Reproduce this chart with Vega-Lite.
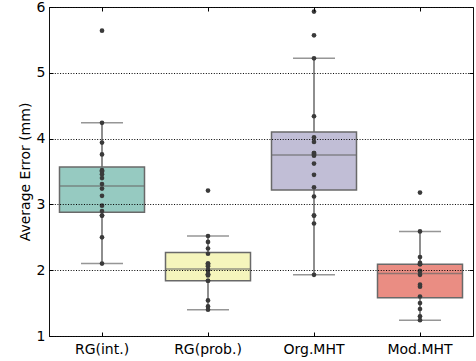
{
  "$schema": "https://vega.github.io/schema/vega-lite/v6.json",
  "width": 424,
  "height": 329,
  "autosize": {"type": "none"},
  "padding": {"left": 49, "top": 7, "right": 3, "bottom": 25},
  "config": {
    "font": "DejaVu Sans",
    "view": {"stroke": "#111", "strokeWidth": 1}
  },
  "datasets": {
    "box": [
      {"m": "RG(int.)", "q1": 2.88, "med": 3.28, "q3": 3.57, "lo": 2.10, "hi": 4.24},
      {"m": "RG(prob.)", "q1": 1.84, "med": 2.02, "q3": 2.27, "lo": 1.40, "hi": 2.52},
      {"m": "Org.MHT", "q1": 3.22, "med": 3.75, "q3": 4.10, "lo": 1.93, "hi": 5.22},
      {"m": "Mod.MHT", "q1": 1.58, "med": 1.95, "q3": 2.09, "lo": 1.24, "hi": 2.59}
    ],
    "pts": [
      {"m": "RG(int.)", "v": 5.64}, {"m": "RG(int.)", "v": 4.24}, {"m": "RG(int.)", "v": 3.94}, {"m": "RG(int.)", "v": 3.76},
      {"m": "RG(int.)", "v": 3.52}, {"m": "RG(int.)", "v": 3.50}, {"m": "RG(int.)", "v": 3.46}, {"m": "RG(int.)", "v": 3.40},
      {"m": "RG(int.)", "v": 3.31}, {"m": "RG(int.)", "v": 3.24}, {"m": "RG(int.)", "v": 3.13}, {"m": "RG(int.)", "v": 2.98},
      {"m": "RG(int.)", "v": 2.90}, {"m": "RG(int.)", "v": 2.83}, {"m": "RG(int.)", "v": 2.83}, {"m": "RG(int.)", "v": 2.50},
      {"m": "RG(int.)", "v": 2.10},
      {"m": "RG(prob.)", "v": 3.21}, {"m": "RG(prob.)", "v": 2.52}, {"m": "RG(prob.)", "v": 2.43}, {"m": "RG(prob.)", "v": 2.33},
      {"m": "RG(prob.)", "v": 2.25}, {"m": "RG(prob.)", "v": 2.10}, {"m": "RG(prob.)", "v": 2.10}, {"m": "RG(prob.)", "v": 2.08},
      {"m": "RG(prob.)", "v": 2.06}, {"m": "RG(prob.)", "v": 2.00}, {"m": "RG(prob.)", "v": 2.00}, {"m": "RG(prob.)", "v": 1.94},
      {"m": "RG(prob.)", "v": 1.94}, {"m": "RG(prob.)", "v": 1.92}, {"m": "RG(prob.)", "v": 1.84}, {"m": "RG(prob.)", "v": 1.84},
      {"m": "RG(prob.)", "v": 1.54}, {"m": "RG(prob.)", "v": 1.45}, {"m": "RG(prob.)", "v": 1.40},
      {"m": "Org.MHT", "v": 5.93}, {"m": "Org.MHT", "v": 5.57}, {"m": "Org.MHT", "v": 5.22}, {"m": "Org.MHT", "v": 4.34},
      {"m": "Org.MHT", "v": 4.02}, {"m": "Org.MHT", "v": 3.95}, {"m": "Org.MHT", "v": 3.78}, {"m": "Org.MHT", "v": 3.78},
      {"m": "Org.MHT", "v": 3.76}, {"m": "Org.MHT", "v": 3.74}, {"m": "Org.MHT", "v": 3.62}, {"m": "Org.MHT", "v": 3.45},
      {"m": "Org.MHT", "v": 3.26}, {"m": "Org.MHT", "v": 3.12}, {"m": "Org.MHT", "v": 2.83}, {"m": "Org.MHT", "v": 2.83},
      {"m": "Org.MHT", "v": 2.71}, {"m": "Org.MHT", "v": 1.93},
      {"m": "Mod.MHT", "v": 3.18}, {"m": "Mod.MHT", "v": 2.59}, {"m": "Mod.MHT", "v": 2.20}, {"m": "Mod.MHT", "v": 2.11},
      {"m": "Mod.MHT", "v": 2.09}, {"m": "Mod.MHT", "v": 2.09}, {"m": "Mod.MHT", "v": 1.99}, {"m": "Mod.MHT", "v": 1.98},
      {"m": "Mod.MHT", "v": 1.93}, {"m": "Mod.MHT", "v": 1.78}, {"m": "Mod.MHT", "v": 1.75}, {"m": "Mod.MHT", "v": 1.60},
      {"m": "Mod.MHT", "v": 1.50}, {"m": "Mod.MHT", "v": 1.41}, {"m": "Mod.MHT", "v": 1.30}, {"m": "Mod.MHT", "v": 1.24}
    ]
  },
  "resolve": {"axis": {"x": "independent", "y": "independent"}},
  "layer": [
    {
      "data": {"name": "box"},
      "mark": {"type": "rule", "color": "#696969", "strokeWidth": 1.5},
      "encoding": {
        "x": {
          "field": "m", "type": "nominal",
          "sort": ["RG(int.)", "RG(prob.)", "Org.MHT", "Mod.MHT"],
          "scale": {"paddingInner": 0, "paddingOuter": 0},
          "axis": {"orient": "bottom", "title": null, "labelAngle": 0, "labelFontSize": 14, "labelColor": "#000",
                   "tickSize": -4, "tickColor": "#000", "domain": false, "labelPadding": 10, "zindex": 1}
        },
        "y": {
          "field": "lo", "type": "quantitative",
          "scale": {"domain": [1, 6], "nice": false, "zero": false},
          "axis": {"orient": "left", "title": "Average Error (mm)", "titleFontSize": 14, "titleFontWeight": "normal",
                   "titleColor": "#000", "values": [1, 2, 3, 4, 5, 6], "labelFontSize": 14, "labelColor": "#000",
                   "tickSize": -4, "tickColor": "#000", "domain": false, "labelPadding": 8,
                   "grid": true, "gridColor": "#000", "gridOpacity": 1, "gridDash": [1, 1.65], "gridWidth": 1, "zindex": 1}
        },
        "y2": {"field": "hi"}
      }
    },
    {
      "data": {"name": "box"},
      "mark": {"type": "tick", "color": "#696969", "thickness": 1.5, "size": 42},
      "encoding": {
        "x": {
          "field": "m", "type": "nominal",
          "sort": ["RG(int.)", "RG(prob.)", "Org.MHT", "Mod.MHT"],
          "axis": {"orient": "top", "title": null, "labels": false, "tickSize": -4, "tickColor": "#000", "domain": false, "zindex": 1}
        },
        "y": {
          "field": "lo", "type": "quantitative",
          "axis": {"orient": "right", "title": null, "labels": false, "values": [1, 2, 3, 4, 5, 6], "tickSize": -4,
                   "tickColor": "#000", "domain": false, "grid": false, "zindex": 1}
        }
      }
    },
    {
      "data": {"name": "box"},
      "mark": {"type": "tick", "color": "#696969", "thickness": 1.5, "size": 42},
      "encoding": {
        "x": {"field": "m", "type": "nominal", "sort": ["RG(int.)", "RG(prob.)", "Org.MHT", "Mod.MHT"], "axis": null},
        "y": {"field": "hi", "type": "quantitative", "axis": null}
      }
    },
    {
      "data": {"name": "box"},
      "mark": {"type": "bar", "size": 85, "stroke": "#696969", "strokeWidth": 1.5},
      "encoding": {
        "x": {"field": "m", "type": "nominal", "sort": ["RG(int.)", "RG(prob.)", "Org.MHT", "Mod.MHT"], "axis": null},
        "y": {"field": "q1", "type": "quantitative", "axis": null},
        "y2": {"field": "q3"},
        "color": {
          "field": "m", "type": "nominal", "legend": null,
          "scale": {"domain": ["RG(int.)", "RG(prob.)", "Org.MHT", "Mod.MHT"],
                    "range": ["#96cac1", "#f5f5bc", "#c1bed6", "#ea8d83"]}
        }
      }
    },
    {
      "data": {"name": "box"},
      "mark": {"type": "tick", "color": "#696969", "thickness": 1.5, "size": 85},
      "encoding": {
        "x": {"field": "m", "type": "nominal", "sort": ["RG(int.)", "RG(prob.)", "Org.MHT", "Mod.MHT"], "axis": null},
        "y": {"field": "med", "type": "quantitative", "axis": null}
      }
    },
    {
      "data": {"name": "pts"},
      "mark": {"type": "circle", "size": 22, "color": "#3a3a3a", "opacity": 1},
      "encoding": {
        "x": {"field": "m", "type": "nominal", "sort": ["RG(int.)", "RG(prob.)", "Org.MHT", "Mod.MHT"], "axis": null},
        "y": {"field": "v", "type": "quantitative", "axis": null}
      }
    }
  ]
}
